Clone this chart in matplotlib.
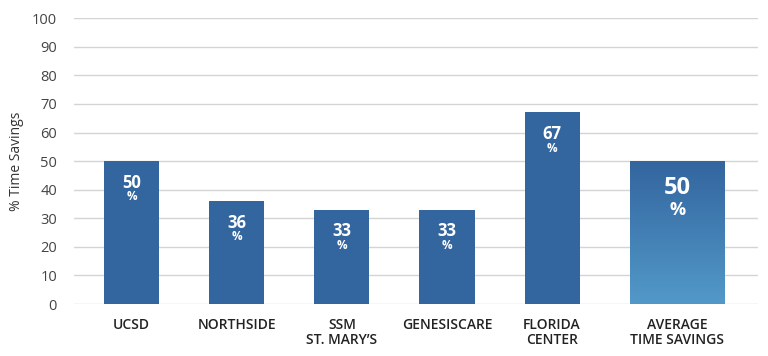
import matplotlib
matplotlib.use("Agg")
import matplotlib.pyplot as plt
import numpy as np
from matplotlib.colors import LinearSegmentedColormap

categories = ["UCSD", "NORTHSIDE", "SSM\nST. MARY\u2019S", "GENESISCARE", "FLORIDA\nCENTER", "AVERAGE\nTIME SAVINGS"]
values = [50, 36, 33, 33, 67, 50]
yticks = [0, 10, 20, 30, 40, 50, 60, 70, 80, 90, 100]

plt.rcParams['font.family'] = ['Open Sans', 'DejaVu Sans']

fig = plt.figure(figsize=(7.68, 3.56), dpi=100)
ax = fig.add_axes([0.096, 0.146, 0.891, 0.803])

x = np.arange(len(categories), dtype=float)
x[-1] += 0.19  # extra gap before the average bar
widths = [0.524] * (len(categories) - 1) + [0.895]
bar_color = "#33659e"
bars = ax.bar(x, values, width=widths, color=bar_color, zorder=3)

# gradient on the average bar
last = bars[-1]
last.set_facecolor("none")
cmap = LinearSegmentedColormap.from_list("g", ["#5299c9", "#33659e"])
grad = np.linspace(0, 1, 256).reshape(-1, 1)
bx = last.get_x()
im = ax.imshow(grad, extent=[bx, bx + last.get_width(), 0, values[-1]], origin="lower",
               aspect="auto", cmap=cmap, zorder=3)
im.set_clip_path(last)

ax.set_xlim(-0.552, 5.96)
ax.set_ylim(0, 100)
ax.set_yticks(yticks)
ax.yaxis.grid(True, color="#d4d4d4", linewidth=1.0, zorder=0)
ax.set_axisbelow(True)
for s in ax.spines.values():
    s.set_visible(False)
ax.tick_params(axis="y", length=0, labelsize=10.5, colors="#444444", pad=12)
ax.tick_params(axis="x", length=0, pad=10)
ax.set_xticks(x)
ax.set_xticklabels(categories, fontsize=10, color="#222222", linespacing=1.1,
                   fontweight="semibold")
ax.set_ylabel("% Time Savings", fontsize=10, color="#333333", labelpad=6)

for i, v in enumerate(values):
    big = i == len(values) - 1
    fs_num = 17 if big else 12
    fs_pct = 13 if big else 8.5
    off_num = 9.5 if big else 7.5
    off_pct = 17 if big else 12.5
    ax.text(x[i], v - off_num, f"{v}", ha="center", va="center", color="white",
            fontsize=fs_num, fontweight="bold", zorder=5)
    ax.text(x[i], v - off_pct, "%", ha="center", va="center", color="white",
            fontsize=fs_pct, fontweight="bold", zorder=5)

fig.savefig("out.png", dpi=100)
